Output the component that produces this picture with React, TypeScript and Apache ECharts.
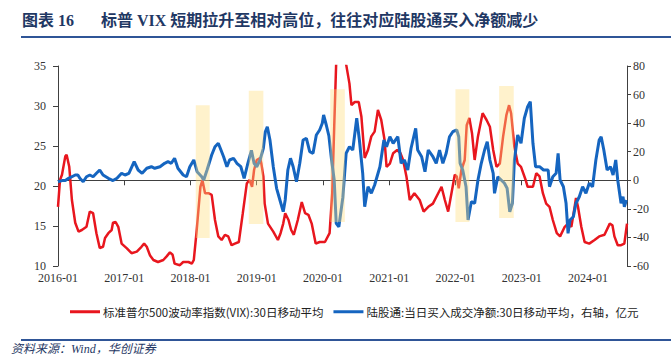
import React, { useEffect, useRef } from "react";
import * as echarts from "echarts";

const TITLE_NO = "图表 16";
const TITLE = "标普 VIX 短期拉升至相对高位，往往对应陆股通买入净额减少";
const SOURCE = "资料来源：Wind，华创证券";
const VIX_NAME = "标准普尔500波动率指数(VIX):30日移动平均";
const FLOW_NAME = "陆股通:当日买入成交净额:30日移动平均，右轴，亿元";

// x positions as decimal years
const vixDates = [
  2016.0, 2016.03, 2016.06, 2016.11, 2016.13, 2016.17, 2016.21, 2016.26, 2016.31, 2016.36,
  2016.43, 2016.48, 2016.53, 2016.58, 2016.63, 2016.68, 2016.71, 2016.76, 2016.81, 2016.83,
  2016.87, 2016.91, 2016.96, 2017.04, 2017.11, 2017.19, 2017.26, 2017.3, 2017.34, 2017.39,
  2017.44, 2017.51, 2017.59, 2017.64, 2017.69, 2017.73, 2017.76, 2017.84, 2017.89, 2017.97,
  2018.02, 2018.05, 2018.09, 2018.12, 2018.15, 2018.18, 2018.22, 2018.27, 2018.32, 2018.37,
  2018.42, 2018.47, 2018.52, 2018.57, 2018.62, 2018.67, 2018.73, 2018.79, 2018.85, 2018.89,
  2018.93, 2018.96, 2019.0, 2019.05, 2019.07, 2019.1, 2019.12, 2019.17, 2019.25, 2019.32,
  2019.36, 2019.4, 2019.43, 2019.48, 2019.52, 2019.56, 2019.62, 2019.68, 2019.73, 2019.78,
  2019.83, 2019.89, 2019.95, 2020.03, 2020.1, 2020.14, 2020.17, 2020.2, 2020.23, 2020.27,
  2020.31, 2020.35, 2020.4, 2020.43, 2020.48, 2020.54, 2020.58, 2020.63, 2020.68, 2020.73,
  2020.78, 2020.83, 2020.88, 2020.93, 2020.96, 2021.01, 2021.06, 2021.12, 2021.17, 2021.21,
  2021.26, 2021.31, 2021.38, 2021.46, 2021.52, 2021.59, 2021.66, 2021.74, 2021.79, 2021.84,
  2021.89, 2021.94, 2021.99, 2022.02, 2022.05, 2022.09, 2022.14, 2022.17, 2022.21, 2022.25,
  2022.29, 2022.34, 2022.41, 2022.47, 2022.52, 2022.57, 2022.62, 2022.67, 2022.72, 2022.77,
  2022.81, 2022.84, 2022.89, 2022.94, 2022.99, 2023.06, 2023.09, 2023.17, 2023.22, 2023.27,
  2023.32, 2023.37, 2023.42, 2023.47, 2023.53, 2023.58, 2023.65, 2023.7, 2023.75, 2023.8,
  2023.82, 2023.85, 2023.9, 2023.95, 2024.02, 2024.1, 2024.17, 2024.25, 2024.33, 2024.37,
  2024.4, 2024.45, 2024.5, 2024.55, 2024.59,
];
const vixValues = [
  17.4, 20.75, 21.4, 23.7, 23.9, 22.4, 18.25, 15.4, 14.3, 14.5,
  14.9, 16.8, 16.6, 14.1, 12.25, 12.4, 13.5, 14.1, 14.5, 15.4,
  15.5, 14.9, 12.8, 12.2, 11.6, 11.8, 12.4, 12.8, 12.4, 11.3,
  10.75, 10.5, 10.75, 11.2, 11.7, 11.4, 10.3, 10.1, 10.5, 10.5,
  10.3, 10.75, 14.1, 17, 19.9, 20.75, 19.1, 19.1, 18.9, 15.75,
  13.7, 13.25, 13.9, 13.7, 12.6, 12.8, 13.0, 16.6, 20.3, 20.75,
  19.9, 22, 23.25, 23.5, 22.8, 21.2, 17.8, 15.3, 14.3, 13.25,
  14.1, 15.3, 16.6, 15.75, 14.5, 13.9, 15.75, 18.0, 16.6, 16.4,
  15.3, 12.8, 13.0, 13.0, 14.1, 19.1, 27.4, 35.5, 48, 57,
  48, 35.2, 32.8, 30.1, 30.5, 30.5, 28.7, 23.5, 24.5, 26.2,
  26.8, 29.5, 28.25, 25.75, 22.4, 22.8, 24.1, 24.5, 24.1, 23.25,
  21.2, 18.25, 19.1, 18.25, 16.8, 17.4, 17.8, 19.1, 19.9, 18.25,
  16.8, 19.1, 21.4, 21.2, 19.7, 22, 23.25, 27.6, 28.5, 26.6,
  23.25, 26.2, 29.1, 28.25, 27.4, 24.5, 22.4, 22.8, 26.2, 28.9,
  30.1, 29.1, 24.9, 22.8, 22.4, 20.75, 19.9, 19.9, 21.6, 21.2,
  19.1, 17.8, 17.4, 15.75, 14.1, 13.7, 14.9, 15.3, 14.9, 17.4,
  18.5, 17.4, 14.9, 13.0, 12.8, 13.25, 13.7, 13.9, 15.3, 15.1,
  13.7, 12.6, 12.6, 12.8, 15.3,
];

const flowDates = [
  2016.0, 2016.06, 2016.11, 2016.16, 2016.21, 2016.26, 2016.3, 2016.33, 2016.38, 2016.43,
  2016.48, 2016.53, 2016.58, 2016.63, 2016.68, 2016.76, 2016.83, 2016.89, 2016.96, 2017.01,
  2017.07, 2017.15, 2017.21, 2017.27, 2017.34, 2017.41, 2017.46, 2017.54, 2017.61, 2017.66,
  2017.71, 2017.76, 2017.81, 2017.89, 2017.94, 2017.99, 2018.05, 2018.1, 2018.17, 2018.2,
  2018.25, 2018.32, 2018.37, 2018.42, 2018.45, 2018.5, 2018.55, 2018.59, 2018.65, 2018.7,
  2018.76, 2018.81, 2018.86, 2018.92, 2018.96, 2019.0, 2019.05, 2019.1, 2019.13, 2019.16,
  2019.2, 2019.25, 2019.3, 2019.35, 2019.4, 2019.43, 2019.47, 2019.51, 2019.55, 2019.6,
  2019.65, 2019.7, 2019.75, 2019.8, 2019.85, 2019.9, 2019.95, 2019.99, 2020.01, 2020.05,
  2020.09, 2020.13, 2020.17, 2020.2, 2020.24, 2020.3, 2020.35, 2020.4, 2020.45, 2020.51,
  2020.55, 2020.6, 2020.63, 2020.68, 2020.73, 2020.78, 2020.86, 2020.92, 2020.96, 2021.01,
  2021.06, 2021.13, 2021.18, 2021.23, 2021.28, 2021.33, 2021.4, 2021.43, 2021.49, 2021.54,
  2021.59, 2021.66, 2021.71, 2021.76, 2021.81, 2021.86, 2021.91, 2021.96, 2022.02, 2022.05,
  2022.07, 2022.11, 2022.16, 2022.19, 2022.24, 2022.29, 2022.34, 2022.39, 2022.44, 2022.48,
  2022.52, 2022.57, 2022.59, 2022.64, 2022.69, 2022.74, 2022.78, 2022.82, 2022.86, 2022.89,
  2022.94, 2022.99, 2023.04, 2023.09, 2023.13, 2023.17, 2023.21, 2023.27, 2023.33, 2023.4,
  2023.42, 2023.47, 2023.52, 2023.55, 2023.58, 2023.63, 2023.67, 2023.7, 2023.73, 2023.78,
  2023.82, 2023.87, 2023.92, 2023.97, 2024.02, 2024.07, 2024.12, 2024.17, 2024.2, 2024.24,
  2024.29, 2024.34, 2024.38, 2024.42, 2024.45, 2024.5, 2024.53, 2024.55, 2024.58,
];
const flowValues = [
  -1.0, -0.2, -0.2, 1.4, 2.5, 3.7, 3.7, 1.4, -1.0, 2.5,
  3.7, 2.5, 4.9, 7.2, 3.7, 1.4, -0.2, 1.4, 4.9, 3.7,
  4.9, 13.0, 7.2, 4.9, 8.4, 9.5, 8.4, 9.5, 11.9, 13.0,
  11.9, 15.4, 8.4, 3.7, 2.5, 9.5, 14.2, 6.0, 2.5, 0.2,
  7.2, 17.7, 23.5, 25.9, 22.4, 16.5, 9.5, 14.2, 15.4, 11.9,
  9.5, 1.4, 10.7, 21.0, 11.9, 9.5, 14.2, 22.4, 34.0, 37.5,
  28.2, 9.5, -5.6, -13.8, -22, -13.8, 7.2, 15.4, 9.5, -1.0,
  11.9, 28.2, 29.4, 20, 18.9, 31.7, 35.2, 39.9, 45.7, 38.7,
  31, 14.2, 0.2, -30.1, -32.5, -12, 18.9, 23.5, 21.2, 43.4,
  28.2, 4.9, -18.5, -4.5, -9.1, -3.3, 9.5, 28.2, 23.5, 30.5,
  25.9, 30.5, 11.9, 14.2, 7.2, 22.4, 36.4, 21.2, 16.5, 6.0,
  21.2, 16.5, 11.9, 21.2, 11.9, 18.9, 30.5, 34, 35.2, 30.5,
  11.9, 7.2, -4.5, -27.8, -15, -16.1, 0.2, 11.9, 21.2, 27.0,
  14.2, 4.9, -9.1, 2.5, 0.2, -2.1, -5.6, -22, -16.1, 14.2,
  31.7, 25.9, 43.4, 51.5, 55.0, 25.9, 9.5, 9.5, 7.2, 7.2,
  -4.5, 2.5, 4.9, 18.9, 0.2, -4.5, -16.1, -37.1, -27.8, -25.5,
  -16.1, -11.5, -4.5, -9.1, -2.1, -4.5, 14.2, 28.2, 30.5, 21.2,
  7.2, 9.5, 3.7, 14.2, 0.2, -16.1, -11.5, -18.5, -13.8,
];

// highlighted windows (decimal years / left-axis values)
const highlightStart = [2018.08, 2018.88, 2020.11, 2022.0, 2022.66];
const highlightEnd = [2018.29, 2019.1, 2020.33, 2022.21, 2022.88];
const highlightLow = [13.5, 15.25, 15.5, 15.5, 16];
const highlightHigh = [30.1, 31.9, 32.1, 32.1, 32.5];

const RED = "#E8161E";
const BLUE = "#1565C0";
const AXIS = "#404040";
const NAVY = "#1F3864";
const SERIF = '"Liberation Serif", "Times New Roman", serif';
const CJK = '"Noto Sans CJK SC", sans-serif';

export default function App() {
  const ref = useRef<HTMLDivElement>(null);

  useEffect(() => {
    if (!ref.current) return;
    const chart = echarts.init(ref.current, null, { renderer: "svg" });

    const axisLabelBase = { color: "#333", fontFamily: SERIF, fontSize: 12 };

    chart.setOption({
      animation: false,
      backgroundColor: "#ffffff",
      grid: { left: 58, right: 44, top: 66, bottom: 89 },
      legend: {
        data: [VIX_NAME, FLOW_NAME],
        left: 65,
        top: 301,
        icon: "rect",
        itemWidth: 30,
        itemHeight: 3,
        itemGap: 10,
        textStyle: { fontFamily: CJK, fontSize: 11.5, color: "#222", padding: [0, 0, 0, -2] },
      },
      xAxis: {
        type: "value",
        min: 2016,
        max: 2024.59,
        interval: 1,
        axisLine: { show: true, lineStyle: { color: AXIS, width: 1 } },
        axisTick: { show: true, length: 5, lineStyle: { color: AXIS } },
        splitLine: { show: false },
        axisLabel: {
          ...axisLabelBase,
          margin: 6,
          showMaxLabel: false,
          formatter: (v: number) => (Number.isInteger(v) ? `${v}-01` : ""),
        },
      },
      yAxis: [
        {
          type: "value",
          min: 10,
          max: 35,
          interval: 5,
          position: "left",
          axisLine: { show: true, lineStyle: { color: AXIS, width: 1 } },
          axisTick: { show: true, length: 5, lineStyle: { color: AXIS } },
          splitLine: { show: false },
          axisLabel: { ...axisLabelBase, margin: 12 },
        },
        {
          type: "value",
          min: -60,
          max: 80,
          interval: 20,
          position: "right",
          axisLine: { show: true, lineStyle: { color: AXIS, width: 1 } },
          axisTick: { show: true, length: 4, lineStyle: { color: AXIS } },
          splitLine: { show: false },
          axisLabel: { ...axisLabelBase, margin: 6 },
        },
      ],
      series: [
        {
          name: VIX_NAME,
          type: "line",
          yAxisIndex: 0,
          data: vixDates.map((d, i) => [d, vixValues[i]]),
          symbol: "none",
          showSymbol: false,
          clip: true,
          lineStyle: { color: RED, width: 2.5 },
          itemStyle: { color: RED },
          z: 2,
        },
        {
          name: FLOW_NAME,
          type: "line",
          yAxisIndex: 1,
          data: flowDates.map((d, i) => [d, flowValues[i]]),
          symbol: "none",
          showSymbol: false,
          clip: true,
          lineStyle: { color: BLUE, width: 3 },
          itemStyle: { color: BLUE },
          z: 3,
        },
        {
          type: "line",
          yAxisIndex: 0,
          data: [],
          z: 10,
          markArea: {
            silent: true,
            z: 10,
            itemStyle: { color: "rgba(255, 222, 127, 0.4)" },
            data: highlightStart.map((s, i) => [
              { xAxis: s, yAxis: highlightHigh[i] },
              { xAxis: highlightEnd[i], yAxis: highlightLow[i] },
            ]),
          },
        },
      ],
      graphic: [
        {
          type: "text",
          x: 22,
          y: 20,
          style: {
            text: TITLE_NO,
            fontFamily: `"Liberation Serif", ${CJK}`,
            fontWeight: "bold",
            fontSize: 16,
            fill: NAVY,
            verticalAlign: "middle",
          },
        },
        {
          type: "text",
          x: 101,
          y: 20,
          style: {
            text: TITLE,
            fontFamily: `"Liberation Serif", ${CJK}`,
            fontWeight: "bold",
            fontSize: 16,
            fill: NAVY,
            verticalAlign: "middle",
          },
        },
        {
          type: "line",
          shape: { x1: 21, y1: 37, x2: 671, y2: 37 },
          style: { stroke: "#2F5597", lineWidth: 2 },
        },
        {
          type: "line",
          shape: { x1: 21, y1: 340, x2: 671, y2: 340 },
          style: { stroke: "#2F5597", lineWidth: 2 },
        },
        {
          type: "text",
          x: 11,
          y: 349,
          style: {
            text: SOURCE,
            fontFamily: `"Liberation Serif", ${CJK}`,
            fontStyle: "italic",
            fontSize: 12,
            fill: NAVY,
            verticalAlign: "middle",
          },
        },
      ],
    });

    return () => chart.dispose();
  }, []);

  return (
    <div
      ref={ref}
      style={{ position: "fixed", left: 0, top: 0, width: 671, height: 355, background: "#fff" }}
    />
  );
}
